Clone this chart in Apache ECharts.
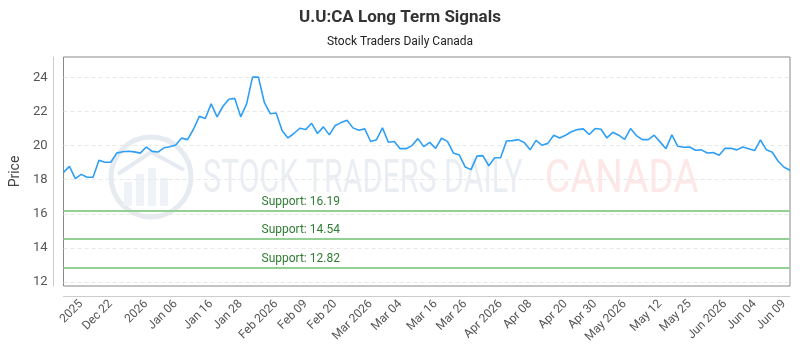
<!DOCTYPE html>
<html>
<head>
<meta charset="utf-8">
<script src="https://cdn.jsdelivr.net/npm/echarts@6/dist/echarts.min.js"></script>
<style>
html,body{margin:0;padding:0;background:#fff;}
#chart{width:800px;height:350px;}
</style>
</head>
<body>
<div id="chart"></div>
<script>
// ---- data ----
const titleText = "U.U:CA Long Term Signals";
const subtitleText = "Stock Traders Daily Canada";
const prices = [
  18.43, 18.78, 18.06, 18.31, 18.14, 18.14, 19.14, 19.02, 19.02, 19.56,
  19.64, 19.67, 19.63, 19.56, 19.92, 19.66, 19.62, 19.87, 19.93, 20.03,
  20.44, 20.35, 20.96, 21.72, 21.59, 22.45, 21.69, 22.31, 22.72, 22.77,
  21.69, 22.45, 24.02, 24.02, 22.53, 21.87, 21.91, 20.89, 20.45, 20.71,
  21.02, 20.94, 21.31, 20.71, 21.10, 20.63, 21.18, 21.35, 21.49, 21.04,
  20.90, 20.98, 20.24, 20.35, 21.04, 20.20, 20.24, 19.82, 19.82, 20.00,
  20.41, 19.94, 20.19, 19.84, 20.43, 20.25, 19.57, 19.45, 18.75, 18.59,
  19.38, 19.41, 18.81, 19.29, 19.29, 20.27, 20.29, 20.35, 20.18, 19.75,
  20.31, 20.02, 20.13, 20.61, 20.45, 20.61, 20.81, 20.94, 20.98, 20.65,
  21.00, 20.96, 20.45, 20.78, 20.61, 20.37, 21.00, 20.59, 20.35, 20.35,
  20.61, 20.22, 19.82, 20.63, 19.96, 19.90, 19.92, 19.73, 19.75, 19.57,
  19.59, 19.43, 19.84, 19.84, 19.75, 19.92, 19.82, 19.71, 20.33, 19.75,
  19.61, 19.08, 18.73, 18.55
];
const tickLabels = ["2025","Dec 22","2026","Jan 06","Jan 16","Jan 28","Feb 2026","Feb 09","Feb 20","Mar 2026","Mar 04","Mar 16","Mar 26","Apr 2026","Apr 08","Apr 20","Apr 30","May 2026","May 12","May 25","Jun 2026","Jun 04","Jun 09"];
const tickIndex = [3, 8, 14, 19, 25, 30, 36, 41, 46, 52, 57, 63, 68, 74, 79, 85, 90, 95, 101, 106, 112, 117, 122];
const supportLevels = [16.19, 14.54, 12.82];
const yTicks = [12, 14, 16, 18, 20, 22, 24];
const yMin = 11.76, yMax = 25.2;

const categories = prices.map((_, i) => String(i));
const labelMap = {};
tickIndex.forEach((idx, k) => { labelMap[idx] = tickLabels[k]; });

const chart = echarts.init(document.getElementById('chart'), null, {renderer: 'canvas'});
const font = 'Roboto, "Noto Sans", sans-serif';

const option = {
  animation: false,
  backgroundColor: '#ffffff',
  title: {
    text: titleText,
    subtext: subtitleText,
    left: 'center',
    top: 4,
    itemGap: 10,
    textStyle: {fontFamily: font, fontSize: 17, fontWeight: 'bold', color: '#333'},
    subtextStyle: {fontFamily: font, fontSize: 12, color: '#222'}
  },
  graphic: [
    {type: 'circle', shape: {cx: 151, cy: 177, r: 40}, style: {fill: 'none', stroke: '#e6ebf1', lineWidth: 5}, z: 0, silent: true},
    {type: 'rect', shape: {x: 124, y: 182, width: 8, height: 24}, style: {fill: '#eff2f6'}, z: 0, silent: true},
    {type: 'rect', shape: {x: 136, y: 174, width: 8, height: 32}, style: {fill: '#eff2f6'}, z: 0, silent: true},
    {type: 'rect', shape: {x: 148, y: 168, width: 8, height: 38}, style: {fill: '#eff2f6'}, z: 0, silent: true},
    {type: 'rect', shape: {x: 160, y: 178, width: 8, height: 28}, style: {fill: '#eff2f6'}, z: 0, silent: true},
    {type: 'polyline', shape: {points: [[118, 174], [151, 152], [184, 170]]}, style: {stroke: '#e6ebf1', lineWidth: 4, fill: 'none'}, z: 0, silent: true},
    {type: 'text', x: 203, y: 157, z: 0, silent: true, scaleX: 0.66,
      style: {text: 'STOCK TRADERS DAILY', fontFamily: font, fontSize: 46, fill: '#eaeef3', letterSpacing: 1}},
    {type: 'text', x: 545, y: 157, z: 0, silent: true, scaleX: 0.84,
      style: {text: 'CANADA', fontFamily: font, fontSize: 46, fill: '#fde7e7'}}
  ],
  grid: {
    left: 60, right: 10, top: 57, bottom: 64,
    show: true, borderColor: '#888', borderWidth: 1, backgroundColor: 'transparent'
  },
  xAxis: {
    type: 'category',
    data: categories,
    boundaryGap: false,
    offset: 10,
    axisLine: {show: true, lineStyle: {color: '#ccc', width: 1}},
    axisTick: {show: false},
    splitLine: {show: false},
    axisLabel: {
      interval: (index) => labelMap[index] !== undefined,
      formatter: (value, index) => labelMap[index] || '',
      rotate: 45,
      margin: 6,
      fontFamily: font,
      fontSize: 12,
      color: '#555'
    }
  },
  yAxis: {
    type: 'value',
    min: yMin,
    max: yMax,
    offset: 10,
    name: 'Price',
    nameLocation: 'middle',
    nameGap: 28,
    nameTextStyle: {fontFamily: font, fontSize: 14, color: '#444'},
    axisLine: {show: true, lineStyle: {color: '#ccc', width: 1}},
    axisTick: {show: false, customValues: yTicks},
    axisLabel: {customValues: yTicks, fontFamily: font, fontSize: 13, color: '#555', margin: 6},
    splitLine: {show: true, lineStyle: {color: '#e8e8e8', type: [4, 3], width: 1}}
  },
  series: [{
    type: 'line',
    data: prices,
    symbol: 'none',
    lineStyle: {color: '#2f9ff5', width: 1.6},
    z: 3,
    markLine: {
      silent: true,
      symbol: 'none',
      lineStyle: {color: '#94cf94', width: 2, type: 'solid'},
      label: {
        show: true,
        position: 'insideStartTop',
        distance: [198, 3],
        formatter: (p) => 'Support: ' + p.value.toFixed(2),
        fontFamily: font,
        fontSize: 12,
        color: '#2e7d32'
      },
      data: supportLevels.map(v => ({yAxis: v}))
    }
  }]
};
chart.setOption(option);
</script>
</body>
</html>
